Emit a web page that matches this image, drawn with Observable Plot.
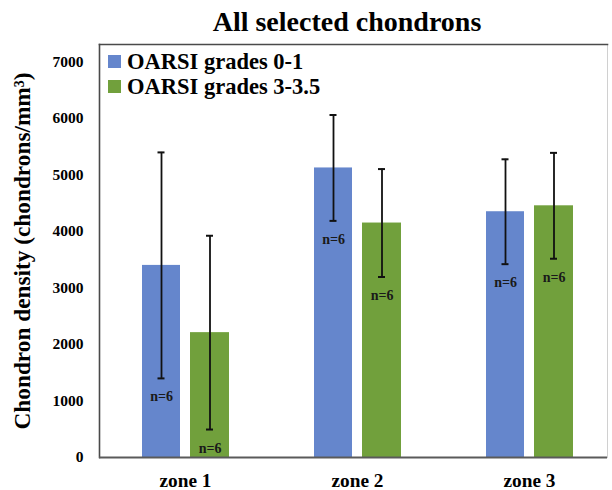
<!DOCTYPE html>
<html><head><meta charset="utf-8">
<script src="https://cdn.jsdelivr.net/npm/d3@7"></script>
<script src="https://cdn.jsdelivr.net/npm/@observablehq/plot@0.6"></script>
<style>
body{margin:0;background:#fff;}
#wrap{position:relative;width:612px;height:490px;overflow:hidden;font-weight:bold;color:#000;}
#title{position:absolute;left:41px;top:7.5px;width:612px;text-align:center;font-size:28px;line-height:28px;white-space:nowrap;}
#legend{position:absolute;left:108px;top:48.5px;font-size:22.5px;line-height:25.5px;white-space:nowrap;}
#legend .sw{display:inline-block;width:13px;height:13px;margin-right:6px;vertical-align:1px;}
#chart{position:absolute;left:0;top:38px;}
</style>
</head><body>
<div id="wrap" style="font-family:'Liberation Serif'">
  <div id="title" style="font-family:'Liberation Serif'"></div>
  <div id="chart"></div>
  <div id="legend" style="font-family:'Liberation Serif'"></div>
</div>
<script>
const zones = ["zone 1", "zone 2", "zone 3"];
const seriesNames = ["OARSI grades 0-1", "OARSI grades 3-3.5"];
const seriesColors = ["#6586CC", "#71A03C"];
const mean01 = [3400, 5125, 4350];
const sd01 = [2000, 937, 928];
const mean335 = [2210, 4150, 4455];
const sd335 = [1715, 955, 937];
const nLabels01 = ["n=6", "n=6", "n=6"];
const nLabels335 = ["n=6", "n=6", "n=6"];
const yTicks = [0, 1000, 2000, 3000, 4000, 5000, 6000, 7000];
const titleText = "All selected chondrons";
const yLabel = "Chondron density (chondrons/mm³)";

const serif = "'Liberation Serif'";

document.getElementById("title").textContent = titleText;
document.getElementById("legend").innerHTML = seriesNames.map((s, i) =>
  `<div style="font-family:'Liberation Serif'"><span class="sw" style="background:${seriesColors[i]}"></span>${s}</div>`).join("");

const d01 = zones.map((z, i) => ({zone: z, mean: mean01[i], lo: mean01[i] - sd01[i], hi: mean01[i] + sd01[i], n: nLabels01[i]}));
const d335 = zones.map((z, i) => ({zone: z, mean: mean335[i], lo: mean335[i] - sd335[i], hi: mean335[i] + sd335[i], n: nLabels335[i]}));

function group(data, color, side) {
  const barInset = side < 0 ? {insetLeft: 43, insetRight: 91} : {insetLeft: 91, insetRight: 42};
  const capInset = side < 0 ? {insetLeft: 58.5, insetRight: 106.5} : {insetLeft: 107, insetRight: 58};
  const dx = side < 0 ? -24 : 24.5;
  return [
    Plot.barY(data, {x: "zone", y: "mean", fill: color, ...barInset}),
    Plot.ruleX(data, {x: "zone", y1: "lo", y2: "hi", dx, stroke: "#111", strokeWidth: 1.8}),
    Plot.tickY(data, {x: "zone", y: "hi", stroke: "#111", strokeWidth: 2, ...capInset}),
    Plot.tickY(data, {x: "zone", y: "lo", stroke: "#111", strokeWidth: 2, ...capInset}),
    Plot.text(data, {x: "zone", y: "lo", text: "n", dx, dy: 18.5, fontSize: 14, fill: "#1a1a1a", fontFamily: serif, fontWeight: "bold"})
  ];
}

const chart = Plot.plot({
  width: 612,
  height: 452,
  marginLeft: 99,
  marginRight: 5,
  marginTop: 6,
  marginBottom: 33,
  style: {fontFamily: serif, fontWeight: "bold", fontSize: "15.5px", color: "#000", background: "#fff"},
  x: {domain: zones, range: [99, 615], padding: 0},
  y: {domain: [0, 7310]},
  marks: [
    Plot.frame({stroke: "#d0d0d0", strokeWidth: 1}),
    Plot.frame({anchor: "left", stroke: "#4a4a4a", strokeWidth: 1.6}),
    Plot.frame({anchor: "top", stroke: "#4a4a4a", strokeWidth: 1.6}),
    ...group(d01, seriesColors[0], -1),
    ...group(d335, seriesColors[1], 1),
    Plot.ruleY([0], {stroke: "#5a5a5a", strokeWidth: 2}),
    Plot.axisY({ticks: yTicks, tickFormat: d3.format("d"), tickSize: 0, tickPadding: 16, fontSize: 15.5,
      label: yLabel, labelAnchor: "center", labelArrow: "none", labelOffset: 86}),
    Plot.axisX({tickSize: 0, tickPadding: 16, fontSize: 19.3, label: null})
  ]
});
document.getElementById("chart").appendChild(chart);
chart.querySelectorAll("text").forEach(t => t.style.setProperty("font-family", serif, "important"));
const yl = chart.querySelector('g[aria-label="y-axis label"]');
if (yl) yl.querySelectorAll("text").forEach(t => t.style.setProperty("font-size", "23.3px", "important"));
</script>
</body></html>
